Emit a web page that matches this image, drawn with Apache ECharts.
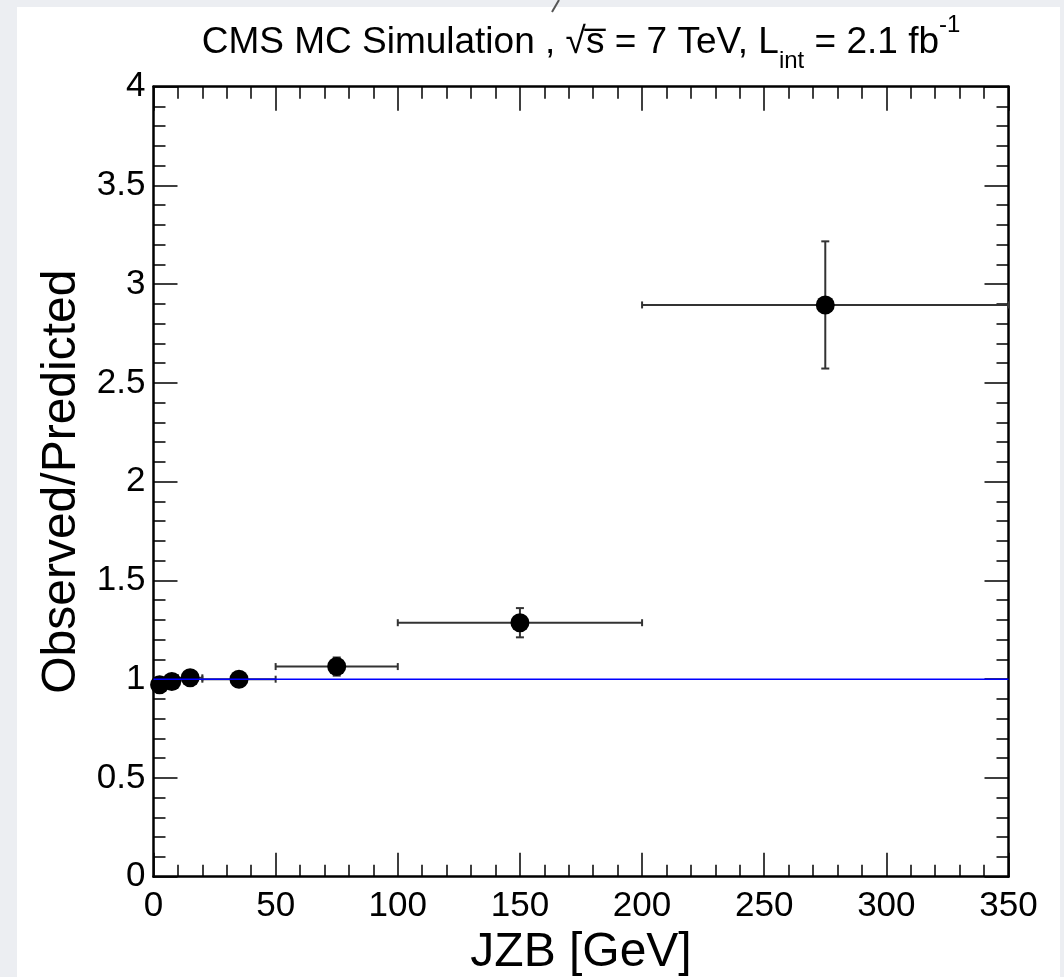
<!DOCTYPE html>
<html>
<head>
<meta charset="utf-8">
<script src="https://cdn.jsdelivr.net/npm/echarts@6/dist/echarts.min.js"></script>
<style>
  html, body { margin: 0; padding: 0; background: #eceef2; overflow: hidden; width: 100%; height: 100%; }
  #paper { position: absolute; left: 17px; top: 7px; right: 4px; bottom: 0; background: #fff; }
  #chart { position: absolute; left: 0; top: 0; width: 100vw; height: 100vh; }
</style>
</head>
<body>
<div id="paper"></div>
<div id="chart"></div>
<script>
// JZB bins and observed/predicted ratio
const binLow = [0, 5, 10, 20, 50, 100, 200]
const binHigh = [5, 10, 20, 50, 100, 200, 350]
const binCenter = [2.5, 7.5, 15, 35, 75, 150, 275]
const ratio = [0.972, 0.988, 1.007, 1.0, 1.064, 1.286, 2.895]
const ratioErr = [0.01, 0.01, 0.012, 0.012, 0.046, 0.074, 0.322]
const refLevel = 1
const xTicks = [0, 50, 100, 150, 200, 250, 300, 350]
const yTicks = [0, 0.5, 1, 1.5, 2, 2.5, 3, 3.5, 4]

const FONT = 'Liberation Sans, Arial, Helvetica, sans-serif'

const chart = echarts.init(document.getElementById('chart'), null, { renderer: 'canvas' })

const baseAxis = (extra) => Object.assign({
  type: 'value',
  axisLine: { show: true, onZero: false, lineStyle: { color: '#000', width: 2.5 } },
  axisTick: { show: true, inside: true, length: 24, lineStyle: { color: '#000', width: 1.5 } },
  minorTick: { show: true, splitNumber: 5, length: 12, lineStyle: { color: '#000', width: 1.5 } },
  splitLine: { show: false },
  axisLabel: { show: false }
}, extra)

const xRange = { min: xTicks[0], max: xTicks[xTicks.length - 1], interval: xTicks[1] - xTicks[0] }
const yRange = { min: yTicks[0], max: yTicks[yTicks.length - 1], interval: yTicks[1] - yTicks[0] }

const errData = binCenter.map((c, i) => [binLow[i], binHigh[i], ratio[i], ratioErr[i], c])

const option = {
  animation: false,
  title: {
    text: '{n|CMS MC Simulation , \u221As\u0305 = 7 TeV, L}{sub|int}{n| = 2.1 fb}{sup|-1}',
    left: 576,
    top: 8,
    textAlign: 'center',
    textStyle: {
      fontWeight: 'normal',
      rich: {
        n: { fontFamily: FONT, fontWeight: 'normal', fontSize: 37, color: '#000', lineHeight: 56, verticalAlign: 'middle' },
        sub: { fontFamily: FONT, fontWeight: 'normal', fontSize: 24, color: '#000', lineHeight: 52, verticalAlign: 'bottom' },
        sup: { fontFamily: FONT, fontWeight: 'normal', fontSize: 24, color: '#000', lineHeight: 60, verticalAlign: 'top' }
      }
    }
  },
  grid: { left: 153.5, right: 55.5, top: 86.7, bottom: 100.3, containLabel: false, outerBoundsMode: 'none' },
  xAxis: [
    baseAxis(Object.assign({
      position: 'bottom',
      name: 'JZB [GeV]',
      nameLocation: 'middle',
      nameGap: 31,
      nameTextStyle: { fontFamily: FONT, fontSize: 48, color: '#000', verticalAlign: 'top' },
      axisLabel: { show: true, fontFamily: FONT, fontSize: 35, color: '#000', margin: 12 }
    }, xRange)),
    baseAxis(Object.assign({ position: 'top' }, xRange))
  ],
  yAxis: [
    baseAxis(Object.assign({
      position: 'left',
      name: 'Observed/Predicted',
      nameLocation: 'middle',
      nameGap: 56,
      nameTextStyle: { fontFamily: FONT, fontSize: 48, color: '#000' },
      axisLabel: { show: true, fontFamily: FONT, fontSize: 35, color: '#000', margin: 8 }
    }, yRange)),
    baseAxis(Object.assign({ position: 'right' }, yRange))
  ],
  graphic: [
    { type: 'line', shape: { x1: 552, y1: 12, x2: 559, y2: 0 }, style: { stroke: '#555', lineWidth: 2 } }
  ],
  series: [
    {
      type: 'custom',
      xAxisIndex: 0,
      yAxisIndex: 0,
      z: 2,
      data: errData,
      renderItem: (params, api) => {
        const xl = api.value(0), xh = api.value(1), y = api.value(2), e = api.value(3), xc = api.value(4)
        const pL = api.coord([xl, y])
        const pR = api.coord([xh, y])
        const pT = api.coord([xc, y + e])
        const pB = api.coord([xc, y - e])
        const st = { stroke: '#333', lineWidth: 2 }
        const ln = (x1, y1, x2, y2) => ({ type: 'line', shape: { x1, y1, x2, y2 }, style: st })
        return {
          type: 'group',
          children: [
            ln(pL[0], pL[1], pR[0], pR[1]),
            ln(pL[0], pL[1] - 3.5, pL[0], pL[1] + 3.5),
            ln(pR[0], pR[1] - 3.5, pR[0], pR[1] + 3.5),
            ln(pT[0], pT[1], pB[0], pB[1]),
            ln(pT[0] - 4, pT[1], pT[0] + 4, pT[1]),
            ln(pB[0] - 4, pB[1], pB[0] + 4, pB[1])
          ]
        }
      }
    },
    {
      type: 'scatter',
      z: 3,
      symbol: 'circle',
      symbolSize: 19,
      itemStyle: { color: '#000', opacity: 1 },
      data: binCenter.map((c, i) => [c, ratio[i]])
    },
    {
      type: 'line',
      z: 4,
      symbol: 'none',
      lineStyle: { color: '#0000ff', width: 1.5 },
      data: [[xRange.min, refLevel], [xRange.max, refLevel]]
    }
  ]
}

chart.setOption(option)
</script>
</body>
</html>
